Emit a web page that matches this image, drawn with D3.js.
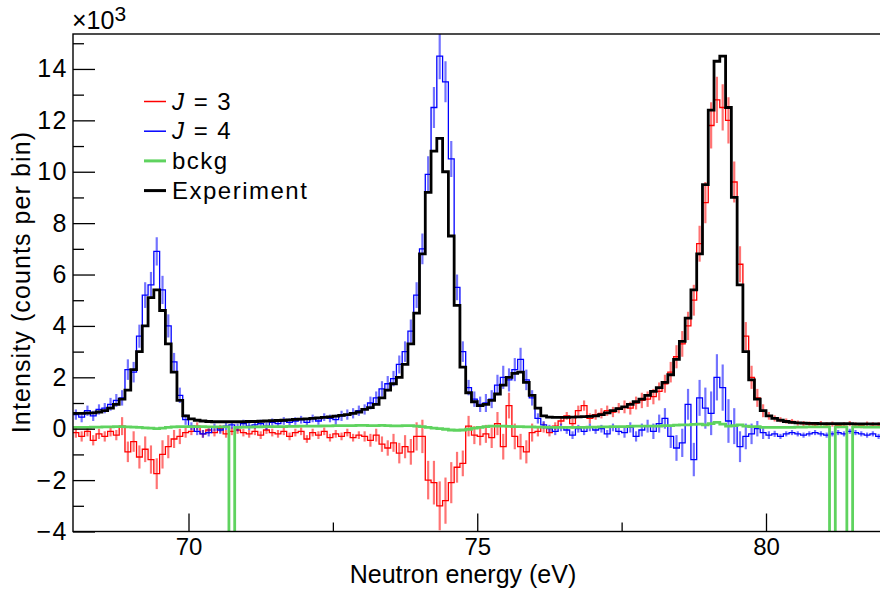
<!DOCTYPE html>
<html>
<head>
<meta charset="utf-8">
<script src="https://cdn.jsdelivr.net/npm/d3@7"></script>
<style>
  body { margin: 0; background: #fff; }
  svg { display: block; }
  text { font-family: "Liberation Sans", Arial, Helvetica, sans-serif; fill: #000; }
</style>
</head>
<body>
<svg id="chart" width="880" height="593"></svg>
<script>
// ---------------- DATA (thousands of counts per bin, 0.1 eV bins from 68.0 eV) ----------------
const binLow = 68.0;      // lower edge of the first bin (eV)
const binWidth = 0.1;     // bin width (eV)

const experiment = [
  0.60,0.60,0.61,0.62,0.65,0.70,0.80,0.95,1.15,1.50,   // 68
  2.30,3.00,4.00,5.10,5.40,4.60,3.30,2.20,1.10,0.50,   // 69
  0.38,0.33,0.30,0.28,0.27,0.27,0.27,0.27,0.27,0.27,   // 70
  0.28,0.28,0.29,0.30,0.31,0.32,0.33,0.34,0.36,0.37,   // 71
  0.38,0.40,0.42,0.44,0.46,0.49,0.52,0.55,0.60,0.65,   // 72
  0.75,0.82,0.95,1.20,1.50,1.75,2.00,2.50,3.30,4.50,   // 73
  6.80,9.20,10.8,11.3,10.0,7.50,4.80,2.40,1.40,1.05,   // 74
  0.90,0.95,1.10,1.35,1.70,2.00,2.15,2.20,1.80,1.30,   // 75
  0.80,0.50,0.45,0.44,0.44,0.44,0.45,0.46,0.47,0.48,   // 76
  0.50,0.55,0.62,0.70,0.78,0.85,0.95,1.05,1.15,1.30,   // 77
  1.45,1.60,1.80,2.10,2.70,3.40,4.30,5.40,6.80,9.50,   // 78
  12.4,14.3,14.5,12.5,9.00,5.60,3.00,1.90,1.15,0.70,   // 79
  0.50,0.40,0.33,0.28,0.25,0.23,0.22,0.21,0.21,0.20,   // 80
  0.20,0.20,0.20,0.20,0.20,0.19,0.19,0.19,0.19,0.19    // 81
];

const j3 = [
  -0.15,-0.30,-0.10,-0.45,-0.20,-0.30,-0.10,-0.25,0.10,-0.90,   // 68
  -0.50,-1.10,-0.80,-1.20,-1.75,-1.00,-0.70,-0.40,-0.30,-0.15,  // 69
  -0.10,0.10,-0.20,-0.05,-0.15,0.00,-0.20,-0.10,-0.05,-0.15,    // 70
  -0.20,-0.10,-0.25,-0.05,-0.15,-0.20,-0.10,-0.30,-0.15,-0.10,  // 71
  -0.40,-0.15,-0.25,-0.10,-0.35,-0.20,-0.30,-0.15,-0.35,-0.25,  // 72
  -0.30,-0.45,-0.25,-0.60,-0.75,-0.55,-0.95,-0.70,-0.90,-0.30,  // 73
  -0.30,-2.00,-2.10,-3.00,-2.80,-2.10,-1.50,-1.35,0.10,-0.25,   // 74
  -0.30,-0.20,-0.35,0.20,-0.70,0.90,-0.30,-0.70,-0.90,-0.15,    // 75
  -0.10,0.05,-0.15,0.10,0.30,0.50,0.20,0.70,0.90,0.40,          // 76
  0.55,0.60,0.70,0.65,0.80,0.85,0.80,1.00,1.10,1.15,            // 77
  1.25,1.45,1.75,2.20,2.80,3.30,4.00,5.00,7.20,8.80,            // 78
  11.8,12.8,12.5,12.0,9.60,6.40,3.60,2.00,1.20,0.70,            // 79
  0.50,0.40,0.35,0.30,0.28,0.22,0.20,0.18,0.15,0.20,            // 80
  0.15,0.18,0.12,0.15,0.20,0.15,0.12,0.18,0.15,0.15             // 81
];

const j3Err = [
  0.20,0.20,0.20,0.20,0.20,0.20,0.20,0.20,0.35,0.40,
  0.40,0.45,0.50,0.55,0.60,0.55,0.45,0.35,0.30,0.20,
  0.15,0.15,0.15,0.15,0.15,0.15,0.15,0.15,0.15,0.15,
  0.15,0.15,0.15,0.15,0.15,0.15,0.15,0.15,0.15,0.15,
  0.15,0.15,0.15,0.15,0.15,0.15,0.15,0.15,0.15,0.15,
  0.20,0.25,0.25,0.30,0.30,0.35,0.40,0.45,0.50,0.55,
  0.65,0.75,0.85,0.95,0.90,0.80,0.60,0.50,0.40,0.35,
  0.35,0.35,0.40,0.45,0.50,0.50,0.50,0.50,0.45,0.35,
  0.20,0.20,0.15,0.15,0.15,0.15,0.20,0.20,0.20,0.20,
  0.20,0.20,0.20,0.20,0.20,0.25,0.25,0.25,0.30,0.30,
  0.30,0.35,0.35,0.40,0.45,0.50,0.55,0.60,0.70,0.80,
  0.90,0.90,0.90,0.90,0.80,0.70,0.55,0.45,0.35,0.25,
  0.15,0.12,0.10,0.10,0.10,0.10,0.10,0.10,0.10,0.10,
  0.10,0.10,0.10,0.10,0.10,0.10,0.10,0.10,0.10,0.10
];

const j4 = [
  0.55,0.45,0.70,0.50,0.75,0.80,0.95,1.10,1.20,2.30,            // 68
  2.20,3.60,5.20,5.60,6.90,5.40,4.00,2.60,1.30,0.35,            // 69
  0.10,-0.10,-0.20,-0.15,0.05,-0.05,0.10,0.15,0.05,0.20,        // 70
  0.10,0.15,0.20,0.10,0.25,0.20,0.30,0.25,0.30,0.35,            // 71
  0.25,0.40,0.30,0.45,0.40,0.35,0.50,0.55,0.60,0.70,            // 72
  0.75,1.00,1.20,1.55,1.75,1.95,2.50,3.00,3.80,5.20,            // 73
  7.00,9.90,12.5,14.5,13.5,10.5,5.50,3.00,1.60,1.15,            // 74
  0.95,1.00,1.15,1.70,2.00,1.90,2.30,2.70,1.90,1.20,            // 75
  0.40,0.15,0.00,-0.10,0.05,-0.05,-0.25,0.00,-0.10,0.05,        // 76
  -0.05,0.00,-0.20,0.05,-0.10,-0.15,0.05,-0.30,-0.05,0.10,      // 77
  -0.10,0.20,0.40,-0.30,-0.75,-0.55,0.95,-1.20,1.20,0.80,       // 78
  0.60,2.00,1.60,0.30,0.10,-0.70,-0.30,-0.20,0.00,-0.15,        // 79
  -0.25,-0.20,-0.30,-0.20,-0.15,-0.20,-0.25,-0.20,-0.15,-0.20,  // 80
  -0.25,-0.20,-0.15,-0.20,-0.10,-0.15,-0.20,-0.25,-0.20,-0.30   // 81
];

const j4Err = [
  0.20,0.20,0.20,0.20,0.20,0.20,0.25,0.25,0.30,0.40,
  0.40,0.45,0.50,0.50,0.55,0.55,0.45,0.35,0.30,0.20,
  0.15,0.15,0.15,0.15,0.15,0.15,0.15,0.15,0.15,0.15,
  0.15,0.15,0.15,0.15,0.15,0.15,0.15,0.15,0.15,0.15,
  0.15,0.15,0.15,0.15,0.15,0.20,0.20,0.20,0.20,0.20,
  0.20,0.25,0.25,0.30,0.30,0.30,0.35,0.40,0.45,0.50,
  0.60,0.70,0.80,0.90,0.80,0.70,0.50,0.40,0.30,0.30,
  0.30,0.35,0.35,0.40,0.45,0.45,0.45,0.45,0.40,0.30,
  0.20,0.15,0.15,0.15,0.15,0.15,0.15,0.15,0.15,0.15,
  0.15,0.15,0.15,0.15,0.15,0.20,0.20,0.20,0.25,0.25,
  0.30,0.35,0.40,0.45,0.50,0.55,0.60,0.65,0.70,0.80,
  0.85,0.90,0.90,0.85,0.70,0.60,0.50,0.40,0.30,0.25,
  0.15,0.12,0.10,0.10,0.10,0.10,0.10,0.10,0.10,0.10,
  0.10,0.10,0.10,0.10,0.10,0.10,0.10,0.10,0.10,0.10
];

const bckg = [
  0.05,0.05,0.05,0.06,0.06,0.07,0.07,0.08,0.08,0.07,   // 68
  0.06,0.05,0.03,0.02,0.00,0.02,0.05,0.07,0.08,0.08,   // 69
  0.08,0.08,0.08,0.07,0.07,0.07,0.07,-5.0,0.05,0.06,   // 70
  0.06,0.07,0.07,0.08,0.08,0.08,0.08,0.09,0.09,0.10,   // 71
  0.10,0.10,0.10,0.11,0.11,0.12,0.12,0.12,0.12,0.13,   // 72
  0.13,0.12,0.12,0.13,0.12,0.11,0.11,0.12,0.12,0.10,   // 73
  0.08,0.05,0.02,0.00,-0.02,-0.05,-0.06,-0.05,-0.02,0.02, // 74
  0.05,0.08,0.10,0.10,0.10,0.09,0.08,0.08,0.07,0.07,   // 75
  0.06,0.06,0.05,0.05,0.05,0.05,0.05,0.05,0.05,0.06,   // 76
  0.06,0.07,0.07,0.08,0.08,0.08,0.09,0.10,0.10,0.10,   // 77
  0.10,0.10,0.12,0.12,0.14,0.15,0.15,0.17,0.18,0.15,   // 78
  0.20,0.25,0.18,0.10,0.12,0.15,0.10,0.08,0.08,0.05,   // 79
  0.05,0.05,0.05,0.05,0.05,0.06,0.06,0.07,0.07,0.07,   // 80
  0.07,-5.0,0.07,0.07,-5.0,0.07,0.07,0.06,0.06,0.06    // 81
];

const xTicksMajor = [70, 75, 80];
const xTicksMinor = [72.5, 77.5];
const yTicksMajor = [-4, -2, 0, 2, 4, 6, 8, 10, 12, 14];
const yTicksMinor = [-3, -1, 1, 3, 5, 7, 9, 11, 13, 15];
const legendLabels = ["J = 3", "J = 4", "bckg", "Experiment"];
const xTitle = "Neutron energy (eV)";
const yTitle = "Intensity (counts per bin)";

// ---------------- CHART ----------------
const svg = d3.select("#chart");
const L = 73, R = 881.5, T = 34, B = 531.5;
const x = d3.scaleLinear().domain([68, 82]).range([L, R]);
const y = d3.scaleLinear().domain([-4, 15.36]).range([B, T]);

const nb = experiment.length;
const edges = d3.range(nb + 1).map(i => binLow + binWidth * i);

svg.append("defs").append("clipPath").attr("id", "frameClip")
  .append("rect").attr("x", L).attr("y", T).attr("width", R - L).attr("height", B - T);

const plot = svg.append("g").attr("clip-path", "url(#frameClip)");

const stepLine = d3.line().x(d => x(d[0])).y(d => y(d[1])).curve(d3.curveStepAfter);
function stepPoints(vals) {
  const pts = vals.map((v, i) => [edges[i], v]);
  pts.push([edges[nb], vals[nb - 1]]);
  return pts;
}

function drawErrHist(vals, errs, color) {
  plot.append("g").selectAll("line").data(vals).join("line")
    .attr("x1", (d, i) => x((edges[i] + edges[i + 1]) / 2))
    .attr("x2", (d, i) => x((edges[i] + edges[i + 1]) / 2))
    .attr("y1", (d, i) => y(d - errs[i]))
    .attr("y2", (d, i) => y(d + errs[i]))
    .attr("stroke", color).attr("stroke-width", 2.2).attr("stroke-opacity", 0.55);
  plot.append("path").attr("d", stepLine(stepPoints(vals)))
    .attr("fill", "none").attr("stroke", color).attr("stroke-width", 1.3);
}

drawErrHist(j3, j3Err, "#ff0000");
drawErrHist(j4, j4Err, "#0000ff");

plot.append("path").attr("d", stepLine(stepPoints(experiment)))
  .attr("fill", "none").attr("stroke", "#000").attr("stroke-width", 2.8);

plot.append("path").attr("d", stepLine(stepPoints(bckg)))
  .attr("fill", "none").attr("stroke", "#5fd35f").attr("stroke-width", 2.8);

// frame
svg.append("rect").attr("x", L).attr("y", T).attr("width", R - L).attr("height", B - T)
  .attr("fill", "none").attr("stroke", "#000").attr("stroke-width", 1.4);

// Y axis
const yAx = svg.append("g").attr("transform", `translate(${L},0)`)
  .call(d3.axisLeft(y).tickValues(yTicksMajor).tickSize(-22).tickPadding(5)
    .tickFormat(d3.format("d")));
yAx.select(".domain").remove();
yAx.selectAll(".tick line").attr("stroke", "#000").attr("stroke-width", 1.3);
yAx.selectAll(".tick text").attr("font-size", 25).attr("font-family", null)
  .style("letter-spacing", "1.5px");

const yAxMinor = svg.append("g").attr("transform", `translate(${L},0)`)
  .call(d3.axisLeft(y).tickValues(yTicksMinor).tickSize(-11).tickFormat(""));
yAxMinor.select(".domain").remove();
yAxMinor.selectAll(".tick line").attr("stroke", "#000").attr("stroke-width", 1.3);

// X axis
const xAx = svg.append("g").attr("transform", `translate(0,${B})`)
  .call(d3.axisBottom(x).tickValues(xTicksMajor).tickSize(-18).tickPadding(6)
    .tickFormat(d3.format("d")));
xAx.select(".domain").remove();
xAx.selectAll(".tick line").attr("stroke", "#000").attr("stroke-width", 1.3);
xAx.selectAll(".tick text").attr("font-size", 24).attr("font-family", null);

const xAxMinor = svg.append("g").attr("transform", `translate(0,${B})`)
  .call(d3.axisBottom(x).tickValues(xTicksMinor).tickSize(-9).tickFormat(""));
xAxMinor.select(".domain").remove();
xAxMinor.selectAll(".tick line").attr("stroke", "#000").attr("stroke-width", 1.3);

// Axis titles
svg.append("text").attr("x", 463).attr("y", 583).attr("text-anchor", "middle")
  .attr("font-size", 25).text(xTitle);
svg.append("text").attr("transform", "translate(30,282) rotate(-90)")
  .attr("text-anchor", "middle").attr("font-size", 25)
  .style("letter-spacing", "1.1px").text(yTitle);

// exponent
const ex = svg.append("text").attr("x", 72).attr("y", 29).attr("font-size", 25);
ex.append("tspan").text("\u00d710");
ex.append("tspan").attr("font-size", 21).attr("dy", -8).text("3");

// Legend
const legColors = ["#ff0000", "#0000ff", "#5fd35f", "#000000"];
const legWidths = [1.5, 1.5, 3, 3];
const legY0 = 101.5, legDy = 29.7;
const leg = svg.append("g");
legendLabels.forEach((lab, i) => {
  const ly = legY0 + i * legDy;
  leg.append("line").attr("x1", 144).attr("x2", 166).attr("y1", ly).attr("y2", ly)
    .attr("stroke", legColors[i]).attr("stroke-width", legWidths[i]);
  const t = leg.append("text").attr("x", 172).attr("y", ly + 8).attr("font-size", 24)
    .style("letter-spacing", "1.5px");
  if (lab.startsWith("J ")) {
    t.append("tspan").attr("font-style", "italic").text("J");
    t.append("tspan").text(lab.slice(1));
  } else {
    t.text(lab);
  }
});
</script>
</body>
</html>
